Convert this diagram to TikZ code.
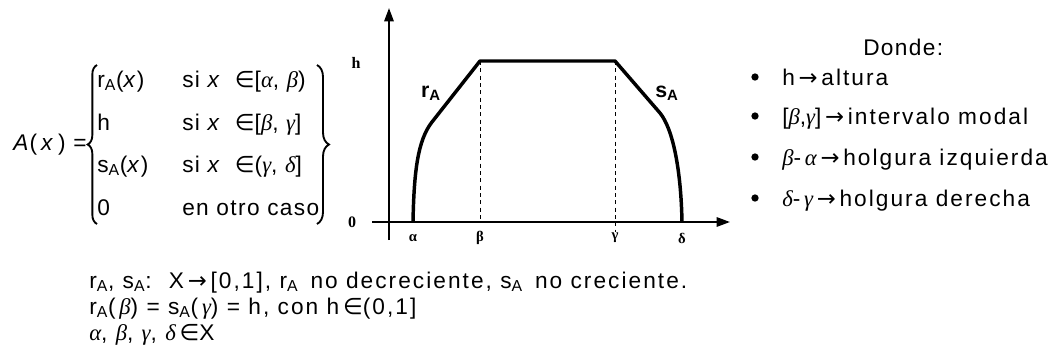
\documentclass[tikz,border=0pt]{standalone}
\usepackage{fontspec}
\setmainfont{Liberation Sans}[LetterSpace=6]
\newfontfamily\symfont{DejaVu Sans}
\newfontfamily\grkfont{Liberation Serif}
\usetikzlibrary{arrows.meta, decorations.pathreplacing}
\newcommand{\gr}[1]{{\grkfont\itshape #1}}
\newcommand{\subA}{\textsubscript{A}}
\newcommand{\arr}{{\symfont\,→\,}}
\newcommand{\inn}{{\symfont ∈}}

\begin{document}
\begin{tikzpicture}[x=0.75pt, y=-0.75pt,
        txt/.style={anchor=base west, inner sep=0pt, font=\fontsize{17}{20}\selectfont},
        note/.style={txt, font=\fontsize{17}{20}\selectfont\addfontfeatures{LetterSpace=9}},
        lbl/.style={inner sep=0pt, font=\fontsize{12}{14}\selectfont\grkfont\bfseries},
        glbl/.style={inner sep=0pt, font=\fontsize{11}{13}\selectfont\grkfont\bfseries},
        flbl/.style={inner sep=0pt, font=\fontsize{16}{18}\selectfont\bfseries},
        axis/.style={line width=1.5pt, -{Triangle[length=10pt, width=7pt]}},
        curve/.style={line width=2.6pt, line join=round},
        guide/.style={line width=0.7pt, dash pattern=on 3pt off 2.5pt},
        brc/.style={line width=1.4pt, decorate, decoration={brace, amplitude=7pt}},
        dot/.style={circle, fill, inner sep=0pt, minimum size=5.5pt},
    ]
    \useasboundingbox (0,0) rectangle (1058,354);

    % A(x) by cases
    \node[txt] (ax) at (13,150) {\textit{A}(\,\textit{x}\,) =};
    \node[txt] (f1) at (97,87) {r\subA(\textit{x})};
    \node[txt] (c1) at (182,87) {si \textit{x}\; \inn[\gr{α}, \gr{β})};
    \node[txt] (f2) at (97,130) {h};
    \node[txt] (c2) at (182,130) {si \textit{x}\; \inn[\gr{β}, \gr{γ}]};
    \node[txt] (f3) at (97,172) {s\subA(\textit{x})};
    \node[txt] (c3) at (182,172) {si \textit{x}\; \inn(\gr{γ}, \gr{δ}]};
    \node[txt] (f4) at (97,215) {0};
    \node[txt] (c4) at (182,215) {en otro caso};
    \coordinate (lb1) at (97,224);
    \coordinate (lb2) at (97,65);
    \coordinate (rb1) at (317,65);
    \coordinate (rb2) at (317,224);
    \draw[brc] (lb1) -- (lb2);
    \draw[brc, decoration={amplitude=9pt}] (rb1) -- (rb2);

    % graph
    \coordinate (ybot) at (389,240);
    \coordinate (ytop) at (389,8);
    \coordinate (xl) at (372,222);
    \coordinate (xr) at (730,222);
    \draw[axis] (ybot) -- (ytop);
    \draw[axis] (xl) -- (xr);
    \draw[guide] (480,61) -- (480,222);
    \draw[guide] (615,61) -- (615,232);
    \draw[curve] (413,222) .. controls (414,170) and (418,140) .. (432,122)
        -- (480,61) -- (615,61) -- (660,113)
        .. controls (673,129) and (681,170) .. (682,222);

    \node[lbl] (lh) at (356,63) {h};
    \node[lbl] (l0) at (352,222) {0};
    \node[glbl] (la) at (413,238) {α};
    \node[glbl] (lb) at (480,238) {β};
    \node[glbl] (lg) at (615,238) {γ};
    \node[glbl] (ld) at (682,238) {δ};
    \node[flbl] (lr) at (431,93) {r\subA};
    \node[flbl] (ls) at (667,93) {s\subA};

    % notes on the right
    \node[txt] (dn) at (863,55) {Donde:};
    \node[dot] (d1) at (755,77) {};
    \node[dot] (d2) at (755,116) {};
    \node[dot] (d3) at (755,157) {};
    \node[dot] (d4) at (755,198) {};
    \node[note] (t1) at (782,85) {h\arr altura};
    \node[note] (t2) at (782,124) {[\gr{β},\gr{γ}]\arr intervalo modal};
    \node[note] (t3) at (782,165) {\gr{β}-\,\gr{α}\arr holgura izquierda};
    \node[note] (t4) at (782,206) {\gr{δ}-\,\gr{γ}\arr holgura derecha};

    % conditions below
    \node[note] (n1) at (89,288) {r\subA, s\subA :\; X\arr[0,1], r\subA\, no decreciente, s\subA\, no creciente.};
    \node[note] (n2) at (89,314) {r\subA(\,\gr{β}) = s\subA(\,\gr{γ}) = h, con h\,\inn(0,1]};
    \node[note] (n3) at (89,340) {\gr{α}, \gr{β}, \gr{γ}, \gr{δ}\,\inn X};
\end{tikzpicture}
\end{document}
